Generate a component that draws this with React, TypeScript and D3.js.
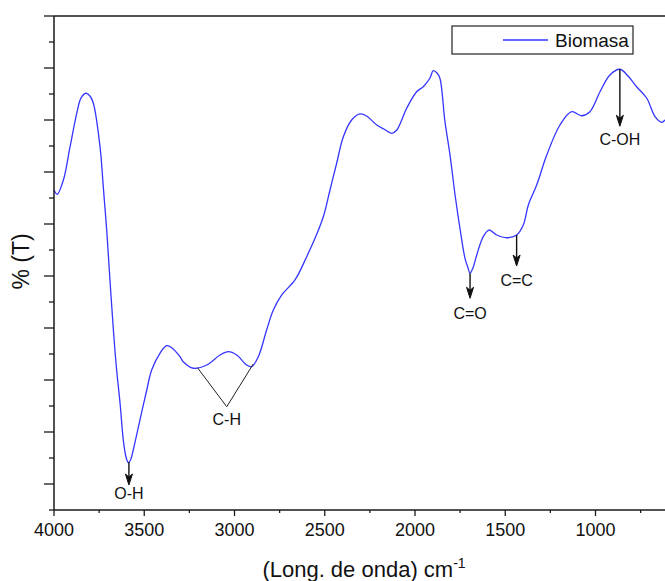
import React from "react";
import * as d3 from "d3";

// FTIR spectrum of the biomass sample (wavenumber in cm-1, transmittance in %)
const wavenumbers = [
  4000, 3982, 3948, 3911, 3874, 3850, 3823, 3801, 3782, 3745, 3727, 3708, 3690, 3671,
  3653, 3634, 3616, 3601, 3588, 3576, 3561, 3524, 3486, 3459, 3413, 3376, 3346, 3302,
  3284, 3228, 3154, 3080, 3034, 2988, 2932, 2905, 2868, 2822, 2785, 2739, 2665, 2600,
  2554, 2508, 2471, 2434, 2397, 2351, 2305, 2268, 2212, 2172, 2129, 2101, 2046, 1991,
  1954, 1917, 1899, 1878, 1862, 1834, 1806, 1778, 1751, 1723, 1706, 1695, 1679, 1658,
  1622, 1590, 1547, 1492, 1437, 1400, 1372, 1326, 1270, 1197, 1132, 1077, 1031, 975,
  920, 865, 820, 772, 716, 670, 633, 615,
];
const transmittance = [
  83.27, 82.86, 84.23, 87.43, 90.64, 92.12, 92.57, 92.31, 91.61, 87.43, 83.59, 79.42, 74.62, 69.81,
  65.96, 62.76, 59.23, 57.6, 57.05, 57.31, 58.27, 61.15, 64.04, 65.96, 67.57, 68.3, 68.08, 67.24,
  66.76, 66.13, 66.44, 67.4, 67.72, 67.4, 66.44, 66.28, 67.24, 69.81, 71.73, 73.17, 74.62, 76.86,
  78.62, 80.7, 83.27, 85.84, 88.39, 90.0, 90.58, 90.38, 89.52, 89.13, 88.72, 89.04, 91.13, 92.72,
  93.2, 94.04, 94.74, 94.52, 94.01, 89.84, 86.63, 82.79, 79.59, 76.7, 75.77, 75.26, 75.77, 77.02,
  78.78, 79.42, 78.94, 78.68, 78.94, 79.9, 81.83, 83.75, 86.63, 89.52, 90.8, 90.41, 90.8, 92.72,
  94.33, 94.88, 94.23, 93.2, 92.09, 90.32, 89.78, 90.0,
];

const seriesName = "Biomasa";

// Bands marked with a downward arrow
const bandLabels = ["O-H", "C=O", "C=C", "C-OH"];
const bandWavenumbers = [3585, 1695, 1437, 865];

// C-H stretching region, marked with a V-shaped bracket
const chLabel = "C-H";
const chLeft = [3206, 66.2];
const chRight = [2896, 66.54];
const chVertex = [3043, 62.43];

const xMajorTicks = [4000, 3500, 3000, 2500, 2000, 1500, 1000];
const xMinorTicks = [3750, 3250, 2750, 2250, 1750, 1250, 750];

const W = 665;
const H = 581;
const left = 54;
const top = 16;
const bottom = 510;
const right = 700;

const FONT = "'Liberation Sans', Arial, sans-serif";

// pixel length of each band arrow and gap from arrow tip to label baseline
const arrowLen = [23, 25, 31, 57];
const labelGap = [14, 21, 20, 19];

function valueAt(w: number): number {
  // linear interpolation along the sampled spectrum
  for (let i = 0; i < wavenumbers.length - 1; i++) {
    const a = wavenumbers[i];
    const b = wavenumbers[i + 1];
    if (w <= a && w >= b) {
      const t = (a - w) / (a - b);
      return transmittance[i] + t * (transmittance[i + 1] - transmittance[i]);
    }
  }
  return transmittance[transmittance.length - 1];
}

export default function App() {
  const x = d3.scaleLinear().domain([4000, 1000]).range([left, 595.5]);
  const y = d3.scaleLinear().domain([52.5, 100]).range([bottom, top]);

  const yMajor = d3.range(55, 100.01, 5);
  const yMinor = d3.range(52.5, 100, 5);

  const line = d3
    .line<number>()
    .x((_, i) => x(wavenumbers[i]))
    .y((d) => y(d))
    .curve(d3.curveCatmullRom.alpha(0.5));

  const axisColor = "#1a1a1a";

  return (
    <svg
      width={W}
      height={H}
      style={{ position: "absolute", left: 0, top: 0, background: "#fff" }}
      fontFamily={FONT}
    >
      <rect x={0} y={0} width={W} height={H} fill="#fff" />

      {/* spectrum */}
      <path d={line(transmittance) || ""} fill="none" stroke="#3535ff" strokeWidth={1.3} />

      {/* frame */}
      <line x1={left} x2={right} y1={top} y2={top} stroke={axisColor} strokeWidth={1.5} />
      <line x1={left} x2={right} y1={bottom} y2={bottom} stroke={axisColor} strokeWidth={1.5} />
      <line x1={left} x2={left} y1={top} y2={bottom} stroke={axisColor} strokeWidth={1.5} />

      {/* y ticks (no labels) */}
      {yMajor.map((v) => (
        <line key={"ym" + v} x1={left - 10} x2={left} y1={y(v)} y2={y(v)} stroke={axisColor} strokeWidth={1.3} />
      ))}
      {yMinor.map((v) => (
        <line key={"yn" + v} x1={left - 5} x2={left} y1={y(v)} y2={y(v)} stroke={axisColor} strokeWidth={1.3} />
      ))}

      {/* x ticks */}
      {xMajorTicks.map((v) => (
        <g key={"xm" + v}>
          <line x1={x(v)} x2={x(v)} y1={bottom} y2={bottom + 6} stroke={axisColor} strokeWidth={1.3} />
          <text x={x(v)} y={bottom + 26} textAnchor="middle" fontSize={18} fill="#111">
            {v}
          </text>
        </g>
      ))}
      {xMinorTicks.map((v) => (
        <line key={"xn" + v} x1={x(v)} x2={x(v)} y1={bottom} y2={bottom + 3} stroke={axisColor} strokeWidth={1.3} />
      ))}

      {/* axis titles */}
      <text transform="translate(29,261.5) rotate(-90)" textAnchor="middle" fontSize={23} fill="#111">
        % (T)
      </text>
      <text x={364} y={577} textAnchor="middle" fontSize={22} fill="#111">
        (Long. de onda) cm
        <tspan fontSize={14} dy={-9}>-1</tspan>
      </text>

      {/* legend */}
      <rect x={452} y={26} width={181} height={28} fill="#fff" stroke="#333" strokeWidth={1.3} />
      <line x1={503} x2={548} y1={40} y2={40} stroke="#3535ff" strokeWidth={1.3} />
      <text x={555} y={47} fontSize={19} fill="#111">
        {seriesName}
      </text>

      {/* band arrows */}
      {bandLabels.map((lab, i) => {
        const bx = x(bandWavenumbers[i]);
        const by = y(valueAt(bandWavenumbers[i]));
        const tip = by + arrowLen[i];
        const head = `M${bx},${tip} L${bx - 3.5},${tip - 11} L${bx},${tip - 8} L${bx + 3.5},${tip - 11} Z`;
        return (
          <g key={lab}>
            <line x1={bx} x2={bx} y1={by} y2={tip - 7} stroke="#111" strokeWidth={1.4} />
            <path d={head} fill="#111" stroke="#111" strokeWidth={1} />
            <text x={bx} y={tip + labelGap[i]} textAnchor="middle" fontSize={16} fill="#111">
              {lab}
            </text>
          </g>
        );
      })}

      {/* C-H bracket */}
      <polyline
        points={[chLeft, chVertex, chRight].map((p) => `${x(p[0])},${y(p[1])}`).join(" ")}
        fill="none"
        stroke="#222"
        strokeWidth={1}
      />
      <text x={x(chVertex[0])} y={y(chVertex[1]) + 18} textAnchor="middle" fontSize={16} fill="#111">
        {chLabel}
      </text>
    </svg>
  );
}
